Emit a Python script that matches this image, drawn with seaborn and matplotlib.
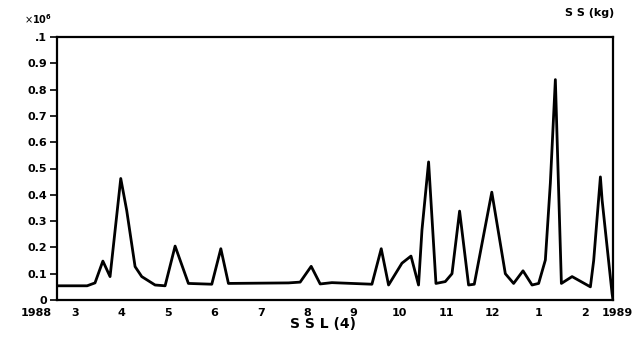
import matplotlib
matplotlib.use("Agg")
import matplotlib.pyplot as plt
import seaborn as sns
import pandas as pd

# months since 1 March 1988
months = [0.0, 0.65, 0.82, 0.99, 1.145, 1.376, 1.505, 1.685, 1.829, 2.117, 2.333,
          2.549, 2.836, 3.341, 3.536, 3.70, 4.996, 5.248, 5.486, 5.68, 5.933,
          6.797, 6.998, 7.156, 7.445, 7.64, 7.803, 7.877, 8.02, 8.179, 8.38,
          8.525, 8.689, 8.883, 9.006, 9.384, 9.676, 9.855, 10.058, 10.253, 10.395,
          10.54, 10.648, 10.756, 10.886, 11.117, 11.512, 11.583, 11.728, 11.765,
          11.98, 12.0]
ss_values = [0.054, 0.054, 0.065, 0.148, 0.089, 0.462, 0.34, 0.127, 0.089, 0.057, 0.054,
             0.205, 0.063, 0.06, 0.195, 0.063, 0.065, 0.068, 0.128, 0.061, 0.066,
             0.06, 0.195, 0.057, 0.14, 0.167, 0.057, 0.266, 0.525, 0.063, 0.07,
             0.10, 0.338, 0.057, 0.06, 0.41, 0.10, 0.063, 0.111, 0.057, 0.063,
             0.152, 0.445, 0.838, 0.063, 0.089, 0.05, 0.15, 0.468, 0.38,
             0.025, 0.0]
month_labels = ["3", "4", "5", "6", "7", "8", "9", "10", "11", "12", "1", "2"]
year_start, year_end = "1988", "1989"
y_ticks = [0, 0.1, 0.2, 0.3, 0.4, 0.5, 0.6, 0.7, 0.8, 0.9, 1.0]
y_labels = ["0", "0.1", "0.2", "0.3", "0.4", "0.5", "0.6", "0.7", "0.8", "0.9", ".1"]

df = pd.DataFrame({"month": months, "ss": ss_values})

sns.set_style("ticks")
plt.rcParams["font.family"] = ["DejaVu Sans"]
plt.rcParams["text.color"] = "black"
plt.rcParams["xtick.color"] = "black"
plt.rcParams["ytick.color"] = "black"
plt.rcParams["axes.labelcolor"] = "black"
fig = plt.figure(figsize=(6.42, 3.53), dpi=100)
ax = fig.add_axes([57/642, 53/353, 556/642, 263/353])

sns.lineplot(data=df, x="month", y="ss", color="black", linewidth=2.0, ax=ax,
             sort=False, estimator=None)

ax.set_xlim(0, 12)
ax.set_ylim(0, 1.0)
ax.set_xticks([i + 0.4 for i in range(len(month_labels))])
ax.set_xticklabels(month_labels, fontsize=8, fontweight="bold")
ax.tick_params(axis="x", length=0, pad=6, colors="black")
ax.set_yticks(y_ticks)
ax.set_yticklabels(y_labels, fontsize=8, fontweight="bold")
ax.tick_params(axis="y", length=5, width=1.2, pad=2, direction="out", colors="black")
for s in ax.spines.values():
    s.set_visible(True)
    s.set_linewidth(1.6)
    s.set_color("black")
ax.set_xlabel("")
ax.set_ylabel("")

ax.text(-0.037, -0.05, year_start, transform=ax.transAxes, ha="center", va="center",
        fontsize=8, fontweight="bold", color="black")
ax.text(1.007, -0.05, year_end, transform=ax.transAxes, ha="center", va="center",
        fontsize=8, fontweight="bold", color="black")
fig.text(323/642, 1 - 324/353, "S S L (4)", ha="center", va="center",
         fontsize=10, fontweight="bold", color="black")
fig.text(590/642, 1 - 13/353, "S S (kg)", ha="center", va="center",
         fontsize=8, fontweight="bold", color="black")
fig.text(38/642, 1 - 19/353, r"$\times\mathbf{10^6}$", ha="center", va="center",
         fontsize=7, color="black")

fig.savefig("out.png", dpi=100)
